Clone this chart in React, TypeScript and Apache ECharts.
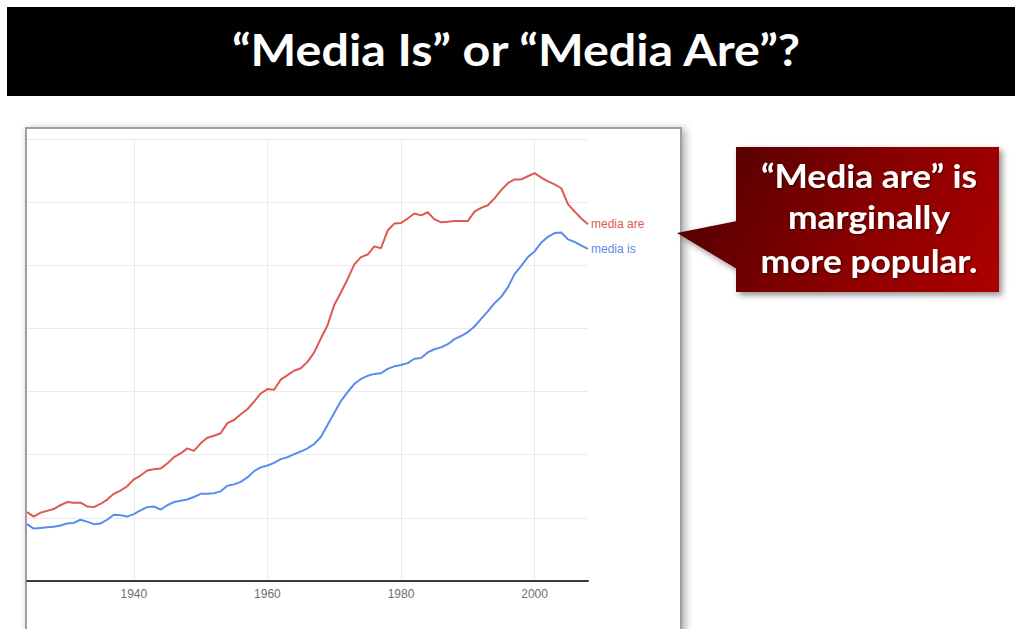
import React, { useEffect, useRef } from "react";
import * as echarts from "echarts";

const years: string[] = Array.from({ length: 85 }, (_, i) => String(1924 + i));

const mediaAre: number[] = [
  1.09, 1.02, 1.08, 1.11, 1.14, 1.2, 1.25, 1.24, 1.24, 1.18,
  1.17, 1.22, 1.29, 1.38, 1.43, 1.5, 1.61, 1.67, 1.75, 1.77,
  1.78, 1.86, 1.96, 2.02, 2.1, 2.06, 2.18, 2.27, 2.3, 2.34,
  2.5, 2.55, 2.64, 2.72, 2.84, 2.97, 3.04, 3.03, 3.19, 3.26,
  3.33, 3.37, 3.47, 3.62, 3.84, 4.05, 4.37, 4.57, 4.78, 5.01,
  5.13, 5.17, 5.3, 5.27, 5.55, 5.66, 5.67, 5.74, 5.82, 5.79,
  5.84, 5.73, 5.68, 5.69, 5.7, 5.7, 5.7, 5.85, 5.91, 5.95,
  6.06, 6.19, 6.3, 6.36, 6.36, 6.41, 6.46, 6.39, 6.33, 6.28,
  6.22, 5.97, 5.85, 5.74, 5.65,
];

const mediaIs: number[] = [
  0.9, 0.83, 0.84, 0.85, 0.86, 0.88, 0.91, 0.92, 0.97, 0.94,
  0.9, 0.91, 0.97, 1.05, 1.04, 1.02, 1.06, 1.12, 1.17, 1.18,
  1.13, 1.2, 1.25, 1.27, 1.29, 1.33, 1.38, 1.38, 1.39, 1.42,
  1.51, 1.53, 1.57, 1.64, 1.74, 1.8, 1.83, 1.87, 1.93, 1.96,
  2.01, 2.05, 2.1, 2.17, 2.28, 2.47, 2.66, 2.85, 2.99, 3.12,
  3.2, 3.25, 3.28, 3.29, 3.36, 3.4, 3.42, 3.45, 3.52, 3.53,
  3.62, 3.67, 3.7, 3.75, 3.83, 3.88, 3.94, 4.03, 4.15, 4.27,
  4.4, 4.5, 4.65, 4.86, 4.99, 5.13, 5.22, 5.36, 5.45, 5.51,
  5.52, 5.41, 5.37, 5.31, 5.26,
];

const seriesNames = ["media are", "media is"];
const seriesColors = ["#dc5a4f", "#5b8cec"];
const titleText = "\u201cMedia Is\u201d or \u201cMedia Are\u201d?";
const calloutLines = ["\u201cMedia are\u201d is", "marginally", "more popular."];

export default function App() {
  const ref = useRef<HTMLDivElement>(null);

  useEffect(() => {
    if (!ref.current) return;
    const chart = echarts.init(ref.current, null, { renderer: "svg" });
    const showYear = (_i: number, v: string) => Number(v) % 20 === 0;
    const grad = new echarts.graphic.LinearGradient(
      736, 147, 999, 292,
      [
        { offset: 0, color: "#5a0202" },
        { offset: 0.5, color: "#8a0404" },
        { offset: 1, color: "#ad0000" },
      ],
      true
    );
    const calloutYs = [174.5, 216, 259.5];

    chart.setOption({
      animation: false,
      backgroundColor: "#ffffff",
      grid: { left: 27, right: 427, top: 139, bottom: 48 },
      xAxis: {
        type: "category",
        data: years,
        boundaryGap: false,
        axisLine: { lineStyle: { color: "#3c3c3c", width: 2 } },
        axisTick: { show: false, interval: showYear },
        axisLabel: {
          interval: showYear,
          color: "#6e6e6e",
          fontSize: 12,
          fontFamily: "Liberation Sans",
          margin: 7,
        },
        splitLine: { show: true, interval: showYear, lineStyle: { color: "#ebebeb" } },
      },
      yAxis: {
        type: "value",
        min: 0,
        max: 7,
        interval: 1,
        axisLabel: { show: false },
        axisLine: { show: false },
        axisTick: { show: false },
        splitLine: { lineStyle: { color: "#ebebeb" } },
      },
      series: [mediaAre, mediaIs].map((d, i) => ({
        name: seriesNames[i],
        type: "line",
        data: d,
        symbol: "none",
        lineStyle: { color: seriesColors[i], width: 2 },
        itemStyle: { color: seriesColors[i] },
        endLabel: {
          show: true,
          formatter: "{a}",
          color: seriesColors[i],
          fontSize: 12,
          fontFamily: "Liberation Sans",
          distance: 3,
        },
      })),
      graphic: [
        {
          type: "rect",
          z: -1,
          shape: { x: 26, y: 128, width: 655, height: 530 },
          style: {
            fill: "#ffffff",
            stroke: "#a0a0a0",
            lineWidth: 2,
            shadowBlur: 8,
            shadowColor: "rgba(0,0,0,0.35)",
            shadowOffsetX: 3,
            shadowOffsetY: 2,
          },
        },
        {
          type: "rect",
          z: 10,
          shape: { x: 7, y: 7, width: 1010, height: 89 },
          style: { fill: "#000000" },
        },
        {
          type: "text",
          z: 11,
          x: 516,
          y: 49,
          scaleX: 1.1,
          style: {
            text: titleText,
            fill: "#ffffff",
            font: "bold 44px Lato",
            textAlign: "center",
            textVerticalAlign: "middle",
          },
        },
        {
          type: "polygon",
          z: 10,
          shape: { points: [[677, 233], [737, 221], [737, 269]] },
          style: {
            fill: grad,
            shadowBlur: 6,
            shadowColor: "rgba(0,0,0,0.45)",
            shadowOffsetX: 3,
            shadowOffsetY: 3,
          },
        },
        {
          type: "rect",
          z: 10,
          shape: { x: 736, y: 147, width: 263, height: 145 },
          style: {
            fill: grad,
            shadowBlur: 6,
            shadowColor: "rgba(0,0,0,0.45)",
            shadowOffsetX: 3,
            shadowOffsetY: 3,
          },
        },
        ...calloutLines.map((t, i) => ({
          type: "text",
          z: 11,
          x: 869,
          y: calloutYs[i],
          scaleX: 1.07,
          style: {
            text: t,
            fill: "#ffffff",
            font: "bold 33px Lato",
            textAlign: "center",
            textVerticalAlign: "middle",
            textShadowBlur: 2,
            textShadowColor: "rgba(0,0,0,0.6)",
            textShadowOffsetX: 1,
            textShadowOffsetY: 1,
          },
        })),
      ],
    });

    return () => chart.dispose();
  }, []);

  return (
    <div
      ref={ref}
      style={{ position: "absolute", left: 0, top: 0, width: 1015, height: 629 }}
    />
  );
}
